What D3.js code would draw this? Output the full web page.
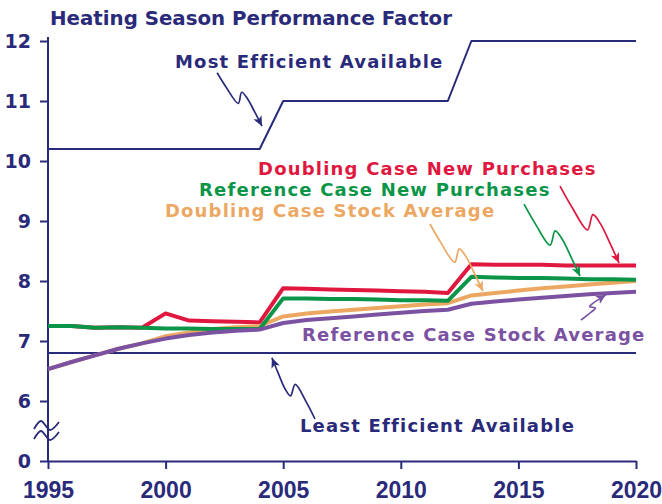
<!DOCTYPE html>
<html>
<head>
<meta charset="utf-8">
<script src="https://cdn.jsdelivr.net/npm/d3@7"></script>
<style>
  body { margin: 0; background: #fff; }
  svg { display: block; }
</style>
</head>
<body>
<svg id="chart" width="662" height="504"></svg>
<script>
(function () {
    // values
    const years = [1995, 1996, 1997, 1998, 1999, 2000, 2001, 2002, 2003, 2004,
        2005, 2006, 2007, 2008, 2009, 2010, 2011, 2012, 2013, 2014,
        2015, 2016, 2017, 2018, 2019, 2020];
    const mostEfficient = [10.2, 10.2, 10.2, 10.2, 10.2, 10.2, 10.2, 10.2, 10.2, 10.2,
        11, 11, 11, 11, 11, 11, 11, 11, 12, 12, 12, 12, 12, 12, 12, 12];
    const leastEfficient = [6.8, 6.8, 6.8, 6.8, 6.8, 6.8, 6.8, 6.8, 6.8, 6.8,
        6.8, 6.8, 6.8, 6.8, 6.8, 6.8, 6.8, 6.8, 6.8, 6.8, 6.8, 6.8, 6.8, 6.8, 6.8, 6.8];
    const doublingNew = [7.25, 7.25, 7.22, 7.23, 7.22, 7.46, 7.34, 7.33, 7.32, 7.31,
        7.88, 7.87, 7.86, 7.85, 7.84, 7.83, 7.82, 7.80, 8.28, 8.27,
        8.27, 8.27, 8.26, 8.26, 8.26, 8.26];
    const referenceNew = [7.25, 7.25, 7.22, 7.23, 7.22, 7.21, 7.21, 7.20, 7.20, 7.20,
        7.71, 7.71, 7.70, 7.70, 7.69, 7.68, 7.68, 7.67, 8.07, 8.06,
        8.05, 8.05, 8.04, 8.03, 8.03, 8.02];
    const doublingStock = [6.53, 6.65, 6.76, 6.87, 6.96, 7.08, 7.14, 7.20, 7.23, 7.25,
        7.41, 7.46, 7.49, 7.52, 7.55, 7.58, 7.61, 7.63, 7.76, 7.80,
        7.84, 7.88, 7.91, 7.94, 7.97, 8.00];
    const referenceStock = [6.53, 6.65, 6.76, 6.87, 6.96, 7.04, 7.10, 7.14, 7.17, 7.19,
        7.30, 7.35, 7.38, 7.41, 7.44, 7.47, 7.50, 7.52, 7.62, 7.66,
        7.69, 7.72, 7.75, 7.78, 7.80, 7.82];
    const xTicks = [1995, 2000, 2005, 2010, 2015, 2020];
    // 5 stands for the broken-off 0 at the bottom of the axis
    const yTicks = [5, 6, 7, 8, 9, 10, 11, 12];
    const yTickLabels = ["0", "6", "7", "8", "9", "10", "11", "12"];

    const navy = "#2a2a7a", red = "#e0173f", green = "#0b9548",
        orange = "#eca862", purple = "#7b52a2";

    const series = [
        { values: mostEfficient, color: navy, width: 2 },
        { values: leastEfficient, color: navy, width: 2 },
        { values: doublingNew, color: red, width: 4 },
        { values: doublingStock, color: orange, width: 4 },
        { values: referenceNew, color: green, width: 4 },
        { values: referenceStock, color: purple, width: 4 }
    ];

    // annotation text, placed in data units
    const labels = [
        { text: "Most Efficient Available", color: navy, year: 2000.4, value: 11.55 },
        { text: "Doubling Case New Purchases", color: red, year: 2003.93, value: 9.767 },
        { text: "Reference Case New Purchases", color: green, year: 2001.42, value: 9.417 },
        { text: "Doubling Case Stock Average", color: orange, year: 1999.97, value: 9.067 },
        { text: "Reference Case Stock Average", color: purple, year: 2005.8, value: 7.0 },
        { text: "Least Efficient Available", color: navy, year: 2005.71, value: 5.48 }
    ];
    const arrows = [
        { color: navy, from: [2002.19, 11.47], to: [2004.1, 10.58] },
        { color: red, from: [2016.77, 9.58], to: [2019.28, 8.30] },
        { color: green, from: [2015.24, 9.28], to: [2017.62, 8.08] },
        { color: orange, from: [2011.24, 8.95], to: [2013.49, 7.83] },
        { color: purple, from: [2017.66, 7.35], to: [2018.72, 7.77] },
        { color: navy, from: [2006.35, 5.70], to: [2004.52, 6.72] }
    ];
    // shape of the hand drawn squiggle: [along, across] as fractions of arrow length
    const wiggle = [[0, 0], [0.25, -0.035], [0.53, -0.05], [0.44, 0.09],
        [0.56, 0.095], [0.78, 0.05], [1, 0]];

    const svg = d3.select("#chart");

    const x = d3.scaleLinear().domain([1995, 2020]).range([48, 636]);
    const y = d3.scaleLinear().domain([5, 12]).range([461, 41]);

    // title
    svg.append("text")
        .attr("x", x(1995) + 2)
        .attr("y", 25)
        .attr("fill", navy)
        .style("font", "bold 19.8px 'DejaVu Sans', sans-serif")
        .text("Heating Season Performance Factor");

    // axes
    const xAxis = svg.append("g")
        .attr("transform", `translate(0,${y(5)})`)
        .call(d3.axisBottom(x).tickValues(xTicks).tickFormat(d3.format("d"))
            .tickSize(8).tickSizeOuter(0).tickPadding(13));
    xAxis.selectAll("text")
        .style("font", "bold 23px 'Liberation Sans', Arial, sans-serif");

    const yAxis = svg.append("g")
        .attr("transform", `translate(${x(1995)},0)`)
        .call(d3.axisLeft(y).tickValues(yTicks).tickFormat((d, i) => yTickLabels[i])
            .tickSize(8).tickSizeOuter(0).tickPadding(9));
    yAxis.selectAll("text")
        .style("font", "bold 19px 'DejaVu Sans', sans-serif");
    yAxis.select(".domain").attr("d", `M0,${y(5)}V${y(12) - 4}`);

    svg.selectAll(".domain, .tick line")
        .attr("stroke", navy).attr("stroke-width", 2);
    svg.selectAll(".tick text").attr("fill", navy);

    // axis break between 0 and 6
    const brk = d3.line().curve(d3.curveCatmullRom);
    [-5, 5].forEach(off => {
        const yb = (y(5) + y(6)) / 2 + off;
        svg.append("path")
            .attr("d", brk([[x(1995) - 14, yb + 3], [x(1995) - 7, yb - 5],
                [x(1995) + 2, yb + 4], [x(1995) + 11, yb - 4]]))
            .attr("fill", "none")
            .attr("stroke", navy)
            .attr("stroke-width", 1.8);
    });

    // lines
    const line = d3.line()
        .x((d, i) => x(years[i]))
        .y(d => y(d));

    svg.append("g")
        .selectAll("path")
        .data(series)
        .enter()
        .append("path")
        .attr("d", d => line(d.values))
        .attr("fill", "none")
        .attr("stroke", d => d.color)
        .attr("stroke-width", d => d.width)
        .attr("stroke-linejoin", "round");

    // arrowheads, one per colour
    const defs = svg.append("defs");
    const colors = Array.from(new Set(arrows.map(a => a.color)));
    colors.forEach((c, i) => {
        defs.append("marker")
            .attr("id", "head" + i)
            .attr("markerUnits", "userSpaceOnUse")
            .attr("markerWidth", 11).attr("markerHeight", 10)
            .attr("refX", 10).attr("refY", 4.5)
            .attr("orient", "auto")
            .append("path")
            .attr("d", "M0,0L10,4.5L0,9L2.5,4.5Z")
            .attr("fill", c);
    });

    const curvy = d3.line().curve(d3.curveCatmullRom.alpha(0.5));
    svg.append("g")
        .selectAll("path")
        .data(arrows)
        .enter()
        .append("path")
        .attr("d", d => {
            const x0 = x(d.from[0]), y0 = y(d.from[1]);
            const x1 = x(d.to[0]), y1 = y(d.to[1]);
            const L = Math.hypot(x1 - x0, y1 - y0);
            const ux = (x1 - x0) / L, uy = (y1 - y0) / L;
            return curvy(wiggle.map(([t, k]) =>
                [x0 + ux * t * L + uy * k * L, y0 + uy * t * L - ux * k * L]));
        })
        .attr("fill", "none")
        .attr("stroke", d => d.color)
        .attr("stroke-width", 1.7)
        .attr("marker-end", d => `url(#head${colors.indexOf(d.color)})`);

    // annotation labels
    svg.append("g")
        .selectAll("text")
        .data(labels)
        .enter()
        .append("text")
        .attr("x", d => x(d.year))
        .attr("y", d => y(d.value))
        .attr("fill", d => d.color)
        .style("font", "bold 18px 'DejaVu Sans', sans-serif")
        .style("letter-spacing", "1.2px")
        .text(d => d.text);
})();
</script>
</body>
</html>
